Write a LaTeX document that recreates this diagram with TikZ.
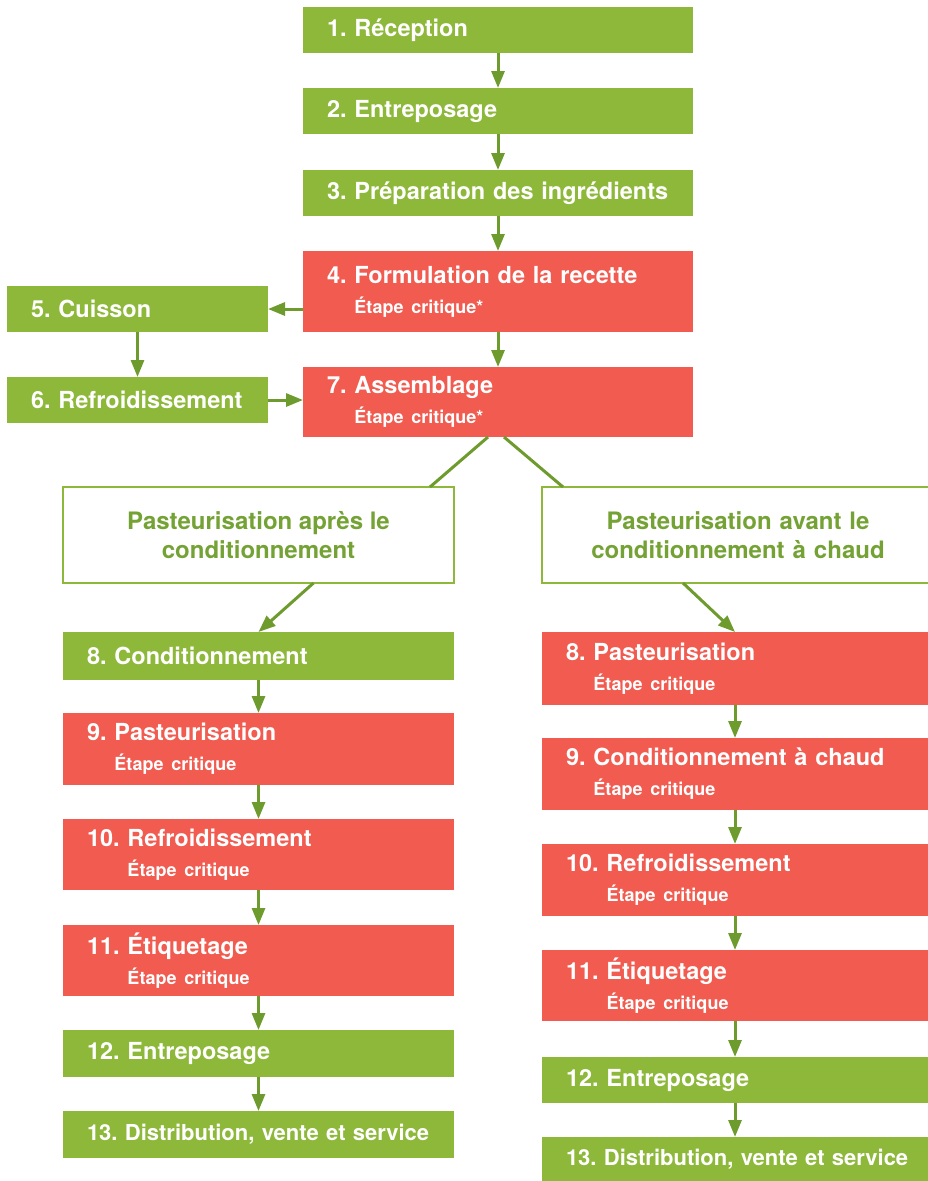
\documentclass[tikz,border=0pt]{standalone}
\usepackage{fontspec}
\setmainfont{TeX Gyre Heros}
\usetikzlibrary{arrows.meta}

\definecolor{stepgreen}{HTML}{8DB83A}
\definecolor{stepred}{HTML}{F15B50}
\definecolor{linkgreen}{HTML}{6E9B2D}
\definecolor{labelgreen}{HTML}{74A234}

\frenchspacing

\begin{document}
\begin{tikzpicture}[
       x=1pt, y=-1pt,
       box_style/.style={rectangle, anchor=north west, outer sep=0pt, inner xsep=24pt, inner ysep=0pt,
                         align=left, text=white, font=\bfseries\fontsize{23.5}{30}\selectfont}, % 步骤框的公共样式
       green_box/.style={box_style, fill=stepgreen},   % 普通步骤:绿色
       red_box/.style={box_style, fill=stepred},       % 关键步骤:红色
       white_box/.style={rectangle, anchor=north west, outer sep=0pt, draw=stepgreen, line width=2.5pt,
                         fill=white, align=center, text=labelgreen, font=\bfseries\fontsize{24}{29}\selectfont}, % 分支说明框
       arrow_style/.style={draw=linkgreen, line width=3pt, -{Triangle[length=17pt,width=13pt]}}, % 箭头
       line_style/.style={draw=linkgreen, line width=3pt} % 无箭头的分支线
   ]

   \useasboundingbox (0,0) rectangle (928,1181);

   % 副标题字号
   \def\sub#1{{\fontsize{18}{18}\selectfont #1}}

   % 1. 主流程(中间一列)
   \node[green_box, minimum width=390pt, minimum height=46pt, text width=342pt] (b1) at (303,7) {1. Réception};
   \node[green_box, minimum width=390pt, minimum height=46pt, text width=342pt] (b2) at (303,88) {2. Entreposage};
   \node[green_box, minimum width=390pt, minimum height=46pt, text width=342pt] (b3) at (303,170) {3. Préparation des ingrédients};
   \node[red_box, minimum width=390pt, minimum height=81pt, text width=342pt] (b4) at (303,251)
        {4. Formulation de la recette\\\hphantom{4. }\sub{Étape critique*}};
   \node[red_box, minimum width=390pt, minimum height=70pt, text width=342pt] (b7) at (303,367)
        {7. Assemblage\\\hphantom{7. }\sub{Étape critique*}};

   % 2. 左侧旁路:烹煮与冷却
   \node[green_box, minimum width=261pt, minimum height=46pt, text width=213pt] (b5) at (7,286) {5. Cuisson};
   \node[green_box, minimum width=261pt, minimum height=46pt, text width=213pt] (b6) at (7,377) {6. Refroidissement};

   % 3. 两个分支的说明框(右框超出画面右边)
   \node[white_box, minimum width=391pt, minimum height=96pt] (wl) at (63,487)
        {Pasteurisation après le\\conditionnement};
   \node[white_box, minimum width=392pt, minimum height=96pt, text width=340pt] (wr) at (542,487)
        {Pasteurisation avant le\\conditionnement à chaud};

   % 4. 左分支
   \node[green_box, minimum width=391pt, minimum height=48pt, text width=343pt] (l8) at (63,632) {8. Conditionnement};
   \node[red_box, minimum width=391pt, minimum height=72pt, text width=343pt] (l9) at (63,713)
        {9. Pasteurisation\\\hphantom{9. }\sub{Étape critique}};
   \node[red_box, minimum width=391pt, minimum height=71pt, text width=343pt] (l10) at (63,819)
        {10. Refroidissement\\\hphantom{10. }\sub{Étape critique}};
   \node[red_box, minimum width=391pt, minimum height=71pt, text width=343pt] (l11) at (63,925)
        {11. Étiquetage\\\hphantom{11. }\sub{Étape critique}};
   \node[green_box, minimum width=391pt, minimum height=47pt, text width=343pt] (l12) at (63,1030) {12. Entreposage};
   \node[green_box, minimum width=391pt, minimum height=47pt, text width=343pt,
         font=\bfseries\fontsize{22}{30}\selectfont] (l13) at (63,1111) {\mbox{13. Distribution, vente et service}};

   % 5. 右分支
   \node[red_box, minimum width=386pt, minimum height=73pt, text width=338pt] (r8) at (542,632)
        {8. Pasteurisation\\\hphantom{8. }\sub{Étape critique}};
   \node[red_box, minimum width=386pt, minimum height=72pt, text width=338pt] (r9) at (542,738)
        {9. Conditionnement à chaud\\\hphantom{9. }\sub{Étape critique}};
   \node[red_box, minimum width=386pt, minimum height=72pt, text width=338pt] (r10) at (542,844)
        {10. Refroidissement\\\hphantom{10. }\sub{Étape critique}};
   \node[red_box, minimum width=386pt, minimum height=71pt, text width=338pt] (r11) at (542,950)
        {11. Étiquetage\\\hphantom{11. }\sub{Étape critique}};
   \node[green_box, minimum width=386pt, minimum height=46pt, text width=338pt] (r12) at (542,1057) {12. Entreposage};
   \node[green_box, minimum width=386pt, minimum height=44pt, text width=338pt,
         font=\bfseries\fontsize{22}{30}\selectfont] (r13) at (542,1137) {\mbox{13. Distribution, vente et service}};

   % 6. 箭头
   \draw[arrow_style] (b1) -- (b2);
   \draw[arrow_style] (b2) -- (b3);
   \draw[arrow_style] (b3) -- (b4);
   \draw[arrow_style] (b4) -- (b7);
   \draw[arrow_style] (b4.west |- b5.east) -- (b5.east);
   \draw[arrow_style] (b5) -- (b6);
   \draw[arrow_style] (b6.east) -- (b6.east -| b7.west);

   % 分支线:从组装到两个说明框
   \draw[line_style] ([xshift=-10pt]b7.south) -- ([xshift=-24pt]wl.north east);
   \draw[line_style] ([xshift=6pt]b7.south) -- ([xshift=21pt]wr.north west);
   \draw[arrow_style] ([xshift=55pt]wl.south) -- (l8.north);
   \draw[arrow_style] ([xshift=-55pt]wr.south) -- (r8.north);

   \draw[arrow_style] (l8) -- (l9);
   \draw[arrow_style] (l9) -- (l10);
   \draw[arrow_style] (l10) -- (l11);
   \draw[arrow_style] (l11) -- (l12);
   \draw[arrow_style] (l12) -- (l13);

   \draw[arrow_style] (r8) -- (r9);
   \draw[arrow_style] (r9) -- (r10);
   \draw[arrow_style] (r10) -- (r11);
   \draw[arrow_style] (r11) -- (r12);
   \draw[arrow_style] (r12.south) -- (r13.north);

   \end{tikzpicture}
\end{document}
